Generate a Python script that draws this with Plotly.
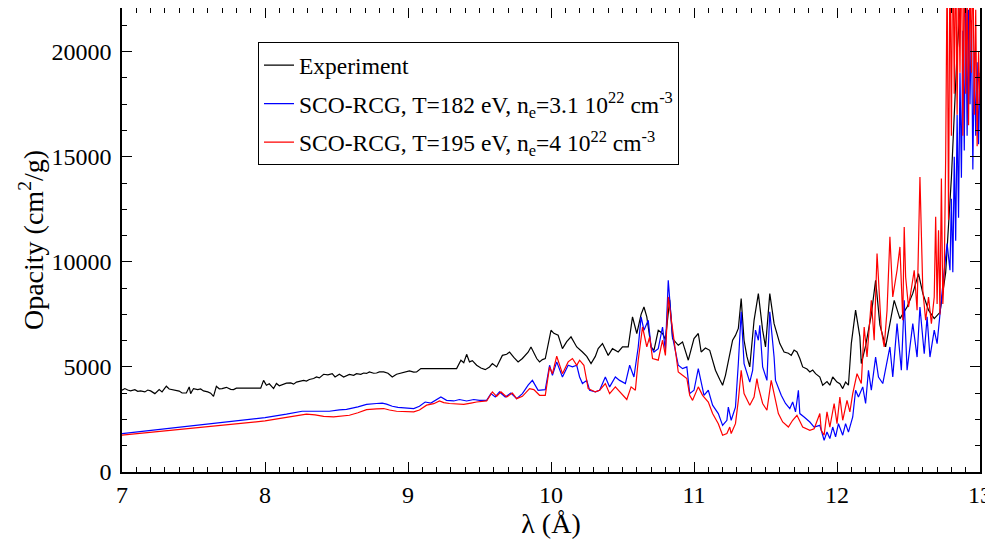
import plotly.graph_objects as go

# --- data (wavelength in Angstrom, opacity in cm2/g) ---
exp_x = [7.00, 7.02, 7.04, 7.06, 7.09, 7.11, 7.13, 7.16, 7.18, 7.20, 7.23, 7.26, 7.28, 7.31, 7.33,
         7.35, 7.38, 7.40, 7.42, 7.45, 7.47, 7.48, 7.50, 7.53, 7.55, 7.57, 7.60, 7.62, 7.64, 7.66,
         7.68, 7.70, 7.73, 7.76, 7.78, 7.80, 7.97, 7.99, 8.01, 8.03, 8.06, 8.08, 8.10, 8.13, 8.15,
         8.18, 8.20, 8.22, 8.25, 8.27, 8.29, 8.31, 8.34, 8.36, 8.38, 8.41, 8.44, 8.47, 8.49, 8.52,
         8.55, 8.57, 8.59, 8.62, 8.64, 8.67, 8.69, 8.71, 8.73, 8.76, 8.78, 8.80, 8.83, 8.86, 8.89,
         8.92, 8.95, 8.97, 9.01, 9.04, 9.06, 9.09, 9.34, 9.37, 9.39, 9.41, 9.43, 9.45, 9.48, 9.51,
         9.54, 9.57, 9.59, 9.62, 9.64, 9.66, 9.69, 9.71, 9.74, 9.77, 9.80, 9.82, 9.84, 9.86, 9.88,
         9.90, 9.92, 9.94, 9.96, 9.99, 10.00, 10.02, 10.05, 10.08, 10.11, 10.14, 10.16, 10.18, 10.22, 10.25,
         10.28, 10.31, 10.33, 10.36, 10.40, 10.43, 10.47, 10.50, 10.54, 10.57, 10.60, 10.63, 10.65, 10.67, 10.70,
         10.72, 10.75, 10.78, 10.80, 10.83, 10.85, 10.89, 10.92, 10.96, 11.00, 11.03, 11.05, 11.08, 11.11, 11.13,
         11.15, 11.18, 11.20, 11.22, 11.24, 11.27, 11.29, 11.31, 11.33, 11.35, 11.37, 11.39, 11.42, 11.45, 11.48,
         11.50, 11.53, 11.56, 11.60, 11.63, 11.66, 11.68, 11.70, 11.72, 11.74, 11.76, 11.79, 11.81, 11.83, 11.85,
         11.88, 11.90, 11.93, 11.95, 11.97, 12.00, 12.02, 12.04, 12.06, 12.08, 12.10, 12.13, 12.16, 12.17, 12.20,
         12.24, 12.27, 12.30, 12.34, 12.37, 12.40, 12.44, 12.49, 12.53, 12.57, 12.60, 12.64, 12.68, 12.72, 12.76,
         12.80, 12.84, 12.88]
exp_y = [3890, 3970, 3900, 3860, 3920, 3840, 3860, 3810, 3900, 3860, 3730, 3920, 3810, 4080, 3950,
         3920, 3890, 3850, 3760, 3760, 4050, 3730, 3970, 3920, 3950, 3860, 3810, 3750, 3600, 4080,
         3960, 3970, 4030, 3930, 3920, 3990, 3990, 4360, 4130, 4200, 3970, 4210, 4100, 4170, 4230,
         4240, 4180, 4280, 4320, 4360, 4330, 4400, 4450, 4520, 4480, 4650, 4620, 4680, 4520, 4650,
         4520, 4580, 4640, 4600, 4680, 4650, 4710, 4690, 4760, 4700, 4710, 4760, 4760, 4700, 4520,
         4650, 4700, 4760, 4810, 4750, 4760, 4920, 4920, 5320, 5200, 5600, 5240, 5300, 5080, 4950,
         4870, 5000, 5160, 5000, 5300, 5550, 5600, 5710, 5450, 5240, 5400, 5550, 5700, 5950, 5700,
         5400, 5240, 5350, 5400, 6430, 6745, 6600, 6510, 5870, 6200, 6430, 6200, 5950, 5710, 5500,
         5160, 5500, 5870, 6110, 5550, 5870, 5710, 5950, 5950, 7380, 6590, 7500, 7850, 7380, 5950,
         5790, 6740, 6590, 6300, 8200, 6350, 6030, 6190, 5320, 6350, 6590, 5710, 5900, 5790, 5300,
         4840, 4400, 4130, 4600, 5320, 6270, 6500, 6830, 8250, 6270, 5500, 5000, 7220, 8490, 6750,
         5950, 8490, 7060, 6110, 5710, 5650, 5550, 5800, 5710, 5400, 5000, 4900, 4760, 4850, 4680,
         4520, 4130, 4300, 4130, 4520, 4280, 4200, 3970, 4280, 4130, 6110, 7700, 6430, 5160, 6000,
         7500, 9120, 7000, 5950, 7000, 8170, 7300, 7850, 8500, 9440, 8500, 7700, 7300, 7600, 9500,
         14000, 20000, 24000]

t182_x = [7.00, 7.50, 8.00, 8.15, 8.26, 8.34, 8.45, 8.52, 8.57, 8.65, 8.71, 8.78, 8.82, 8.85, 8.89,
          8.93, 8.97, 9.04, 9.08, 9.12, 9.16, 9.20, 9.23, 9.27, 9.30, 9.32, 9.36, 9.41, 9.46, 9.50,
          9.55, 9.58, 9.61, 9.64, 9.68, 9.72, 9.76, 9.80, 9.84, 9.87, 9.91, 9.96, 9.99, 10.01, 10.04,
          10.08, 10.12, 10.15, 10.18, 10.20, 10.22, 10.25, 10.27, 10.31, 10.34, 10.38, 10.41, 10.45, 10.48, 10.52,
          10.55, 10.58, 10.61, 10.63, 10.65, 10.68, 10.70, 10.72, 10.75, 10.78, 10.80, 10.82, 10.85, 10.87, 10.89,
          10.92, 10.95, 10.97, 11.00, 11.03, 11.05, 11.07, 11.10, 11.13, 11.17, 11.20, 11.23, 11.24, 11.26, 11.29,
          11.31, 11.33, 11.35, 11.39, 11.41, 11.43, 11.45, 11.46, 11.48, 11.51, 11.53, 11.56, 11.57, 11.61, 11.64,
          11.67, 11.69, 11.71, 11.73, 11.74, 11.77, 11.81, 11.84, 11.88, 11.91, 11.93, 11.95, 11.97, 11.99, 12.01,
          12.04, 12.06, 12.08, 12.11, 12.13, 12.15, 12.18, 12.20, 12.22, 12.24, 12.27, 12.29, 12.32, 12.34, 12.37,
          12.39, 12.42, 12.45, 12.47, 12.49, 12.53, 12.56, 12.58, 12.61, 12.63, 12.65, 12.68, 12.70, 12.73, 12.75,
          12.77, 12.79, 12.80, 12.81, 12.82, 12.83, 12.84, 12.85, 12.86, 12.87, 12.88, 12.89, 12.90, 12.91, 12.92,
          12.93, 12.94, 12.95, 12.96, 12.97, 12.98, 12.99, 13.00]
t182_y = [1830, 2200, 2590, 2750, 2890, 2890, 2890, 2960, 2980, 3100, 3220, 3260, 3280, 3230, 3130,
          3080, 3060, 3020, 3130, 3330, 3280, 3450, 3570, 3410, 3400, 3380, 3450, 3380, 3450, 3410,
          3410, 3730, 3570, 3810, 3570, 3760, 3490, 3730, 4130, 4360, 3890, 3920, 5080, 4600, 5240,
          4520, 5080, 5000, 5080, 4520, 4210, 4360, 3890, 3810, 3890, 4520, 4050, 4520, 4360, 4210,
          5080, 4520, 5950, 7380, 6750, 7220, 5950, 5710, 5870, 6900, 5790, 9120, 6430, 5790, 5080,
          4920, 5000, 3730, 3890, 4920, 4210, 3650, 3890, 3180, 2780, 2220, 2460, 3090, 2460, 3090,
          5160, 7620, 5160, 4280, 4840, 6750, 6270, 6980, 5000, 4360, 7620, 5470, 4360, 3650, 3260,
          3020, 3330, 2860, 3890, 2780, 2620, 2380, 2140, 2220, 1510, 1900, 1590, 2140, 1670, 2300,
          1750, 2300, 1900, 2620, 3890, 3570, 4050, 3260, 4840, 3890, 5470, 4520, 4210, 4840, 5950,
          4520, 7060, 4840, 8170, 4840, 7060, 5470, 7850, 5630, 7380, 5470, 6750, 6110, 8330, 9600,
          10870, 9600, 13000, 9500, 15000, 11000, 17000, 12100, 19000, 14000, 21000, 15300, 23000, 16000, 22000,
          17500, 21500, 14400, 20000, 16000, 19500, 15600, 19000]

t195_x = [7.00, 7.50, 8.00, 8.15, 8.29, 8.35, 8.41, 8.48, 8.59, 8.65, 8.71, 8.78, 8.83, 8.87, 8.92,
          9.04, 9.08, 9.13, 9.18, 9.22, 9.25, 9.29, 9.34, 9.39, 9.44, 9.48, 9.55, 9.59, 9.62, 9.65,
          9.69, 9.73, 9.76, 9.80, 9.85, 9.88, 9.92, 9.96, 9.99, 10.01, 10.04, 10.08, 10.12, 10.15, 10.18,
          10.20, 10.23, 10.26, 10.31, 10.34, 10.38, 10.41, 10.45, 10.49, 10.53, 10.56, 10.59, 10.61, 10.64, 10.67,
          10.69, 10.71, 10.75, 10.78, 10.80, 10.82, 10.85, 10.87, 10.89, 10.92, 10.95, 10.97, 10.99, 11.03, 11.06,
          11.10, 11.13, 11.17, 11.20, 11.23, 11.25, 11.26, 11.29, 11.31, 11.33, 11.35, 11.39, 11.42, 11.44, 11.45,
          11.48, 11.51, 11.54, 11.56, 11.59, 11.62, 11.66, 11.69, 11.72, 11.76, 11.81, 11.84, 11.88, 11.89, 11.91,
          11.93, 11.95, 11.98, 12.00, 12.02, 12.04, 12.07, 12.09, 12.11, 12.14, 12.17, 12.19, 12.21, 12.24, 12.26,
          12.28, 12.31, 12.33, 12.35, 12.37, 12.39, 12.42, 12.44, 12.46, 12.47, 12.48, 12.50, 12.54, 12.56, 12.58,
          12.60, 12.62, 12.64, 12.66, 12.68, 12.69, 12.70, 12.71, 12.72, 12.73, 12.74, 12.75, 12.76, 12.77, 12.78,
          12.79, 12.80, 12.81, 12.82, 12.83, 12.84, 12.85, 12.86, 12.87, 12.88, 12.89, 12.90, 12.91, 12.92, 12.93,
          12.94, 12.95, 12.96, 12.97, 12.98, 12.99, 13.00]
t195_y = [1750, 2100, 2430, 2600, 2750, 2720, 2650, 2620, 2700, 2820, 2970, 3000, 3020, 2950, 2890,
          2860, 2950, 3180, 3250, 3380, 3300, 3260, 3240, 3220, 3280, 3330, 3380, 3810, 3600, 3810,
          3570, 3760, 3490, 3600, 3970, 3920, 3650, 3650, 5000, 4680, 5510, 4680, 5240, 5400, 5080,
          5320, 5080, 3970, 3810, 3890, 4210, 3730, 4050, 3730, 3450, 4050, 3890, 5320, 6900, 5950,
          6430, 5400, 5320, 6270, 5550, 8330, 6900, 5790, 4760, 4600, 4450, 3650, 3410, 4050, 3650,
          3330, 2780, 2300, 1750, 1830, 2140, 1830, 2300, 3410, 4840, 3730, 3180, 3570, 4450, 4050,
          3260, 2940, 4360, 3730, 2780, 2380, 2140, 2460, 2700, 2140, 1980, 2060, 2780, 1980, 1750,
          2860, 2140, 3260, 2300, 3570, 2460, 3410, 2860, 3730, 4680, 4210, 6900, 5470, 8170, 6270,
          10400, 6750, 5950, 7700, 11190, 8330, 9600, 10710, 7220, 11660, 9280, 7850, 9600, 7700, 14040,
          8650, 7220, 8330, 7060, 8330, 12140, 8000, 11500, 7500, 13970, 8000, 9500, 15000, 24000, 12000,
          25000, 16000, 26000, 18000, 25000, 17000, 24000, 19000, 26000, 16000, 25000, 18000, 23000, 16500, 24000,
          19000, 25000, 17000, 22000, 15500, 20000, 17500]

series_names = [
    "Experiment",
    "SCO-RCG, T=182 eV, n<sub>e</sub>=3.1 10<sup>22</sup> cm<sup>-3</sup>",
    "SCO-RCG, T=195 eV, n<sub>e</sub>=4 10<sup>22</sup> cm<sup>-3</sup>",
]
series_colors = ["#000000", "#0000ff", "#ff0000"]

FONT = "Liberation Serif, Times New Roman, serif"

fig = go.Figure()
for i, (xs, ys) in enumerate([(exp_x, exp_y), (t182_x, t182_y), (t195_x, t195_y)]):
    fig.add_trace(go.Scatter(
        x=xs, y=ys, mode="lines", name=series_names[i],
        legendgroup=str(i),
        line=dict(color=series_colors[i], width=1.2),
    ))

axis_common = dict(
    showline=True, linecolor="black", linewidth=1.5, mirror="allticks",
    ticks="inside", ticklen=10, tickwidth=1.2, tickcolor="black",
    showgrid=False, zeroline=False, automargin=False,
    tickfont=dict(family=FONT, size=24, color="black"),
)

# the page body adds an 8px offset, so the figure is a little smaller than the window
fig.update_xaxes(
    range=[7, 13], dtick=1, tick0=7, tickformat="d",
    minor=dict(dtick=0.1, ticks="inside", ticklen=5, tickcolor="black", tickwidth=1),
    title=dict(text="λ (Å)", font=dict(family=FONT, size=28, color="black"), standoff=0),
    **axis_common,
)
fig.update_yaxes(
    range=[0, 22080], dtick=5000, tick0=0, tickformat="d",
    minor=dict(dtick=1250, ticks="inside", ticklen=5, tickcolor="black", tickwidth=1),
    ticklabelstandoff=4,
    title=dict(text="Opacity (cm<sup>2</sup>/g)", font=dict(family=FONT, size=28, color="black"), standoff=0),
    **axis_common,
)

fig.update_layout(
    width=985, height=532,
    margin=dict(l=114, r=13, t=0, b=68),
    plot_bgcolor="white", paper_bgcolor="white",
    font=dict(family=FONT, color="black"),
    legend=dict(
        x=0.1585, y=0.926, xanchor="left", yanchor="top",
        bgcolor="white", bordercolor="black", borderwidth=1,
        font=dict(family=FONT, size=23.5, color="black"),
        traceorder="grouped", tracegroupgap=5,
    ),
)

fig.write_html("out.html")
